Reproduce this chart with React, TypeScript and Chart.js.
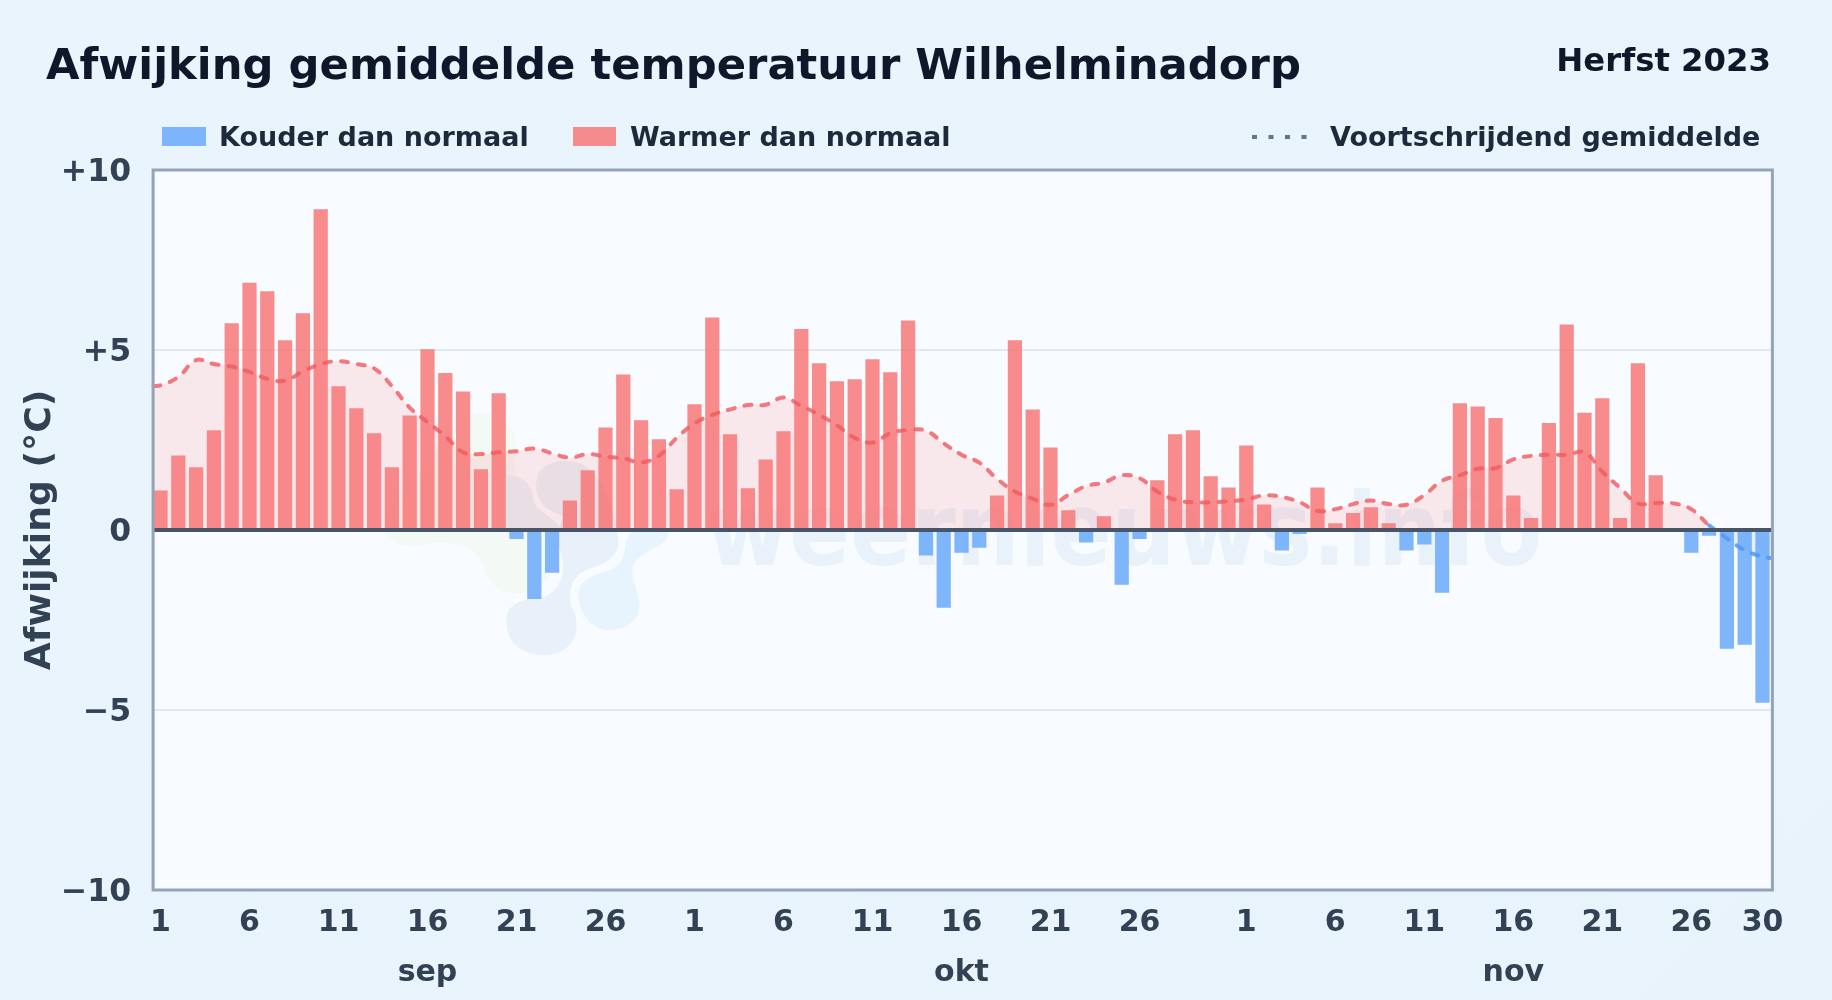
import React, { useEffect, useRef } from "react";
import { Chart, registerables } from "chart.js";

Chart.register(...registerables);

const titleText = "Afwijking gemiddelde temperatuur Wilhelminadorp";
const seasonText = "Herfst 2023";
const coldLabel = "Kouder dan normaal";
const warmLabel = "Warmer dan normaal";
const rollingLabel = "Voortschrijdend gemiddelde";
const yAxisLabel = "Afwijking (°C)";
const watermarkText = "weernieuws.info";

const months = ["sep", "okt", "nov"];
const monthLengths = [30, 31, 30];

const deviation = [
  1.1, 2.07, 1.74, 2.77, 5.74, 6.87, 6.63, 5.27, 6.02, 8.91, 3.99, 3.38, 2.69, 1.74, 3.18, 5.02, 4.36, 3.85, 1.69, 3.8,
  -0.25, -1.92, -1.19, 0.82, 1.66, 2.85, 4.32, 3.05, 2.52, 1.13,
  3.49, 5.9, 2.66, 1.16, 1.96, 2.74, 5.58, 4.63, 4.13, 4.19, 4.74, 4.38, 5.82, -0.71, -2.16, -0.63, -0.49, 0.96, 5.27, 3.35,
  2.29, 0.55, -0.35, 0.38, -1.52, -0.25, 1.38, 2.66, 2.77, 1.49, 1.18,
  2.35, 0.71, -0.57, -0.11, 1.18, 0.19, 0.47, 0.63, 0.19, -0.57, -0.4, -1.74, 3.52, 3.43, 3.11, 0.96, 0.33, 2.97, 5.71,
  3.26, 3.66, 0.33, 4.63, 1.52, 0, -0.63, -0.16, -3.3, -3.19, -4.8,
];

const rolling = [
  4.02, 4.25, 4.72, 4.61, 4.54, 4.39, 4.2, 4.15, 4.41, 4.61, 4.69, 4.61, 4.49, 4.0, 3.4, 3.0, 2.61, 2.16, 2.11, 2.16,
  2.19, 2.26, 2.13, 2.01, 2.11, 2.04, 1.99, 1.88, 2.06, 2.56,
  2.96, 3.2, 3.35, 3.47, 3.48, 3.68, 3.45, 3.2, 2.91, 2.56, 2.43, 2.69, 2.78, 2.76, 2.41, 2.09, 1.87, 1.42, 1.07, 0.87,
  0.7, 0.97, 1.22, 1.32, 1.52, 1.44, 1.07, 0.84, 0.77, 0.77, 0.8,
  0.85, 0.96, 0.92, 0.77, 0.53, 0.58, 0.72, 0.82, 0.72, 0.7, 0.97, 1.37, 1.52, 1.7, 1.72, 1.96, 2.06, 2.09, 2.09,
  2.16, 1.62, 1.17, 0.74, 0.75, 0.74, 0.58, 0.13, -0.23, -0.56, -0.74,
];
const rollingBefore = 4.0;
const rollingAfter = -0.78;

const yTicks = [-10, -5, 0, 5, 10];

const dayLabels: string[] = [];
const monthOfDay: number[] = [];
monthLengths.forEach((len, m) => {
  for (let d = 1; d <= len; d++) {
    dayLabels.push(String(d));
    monthOfDay.push(m);
  }
});

const C_TITLE = "#0f172a";
const C_LEGEND = "#1e293b";
const C_TICK = "#334155";
const C_RED_LINE = "rgba(240,90,95,0.8)";
const C_BLUE_LINE = "rgba(80,150,245,0.85)";
const FONT = "'DejaVu Sans'";

const blob = (ctx: CanvasRenderingContext2D, color: string, start: number[], curves: number[][]) => {
  const px = (x: number) => 370 + x / 3;
  const py = (y: number) => 400 + y / 3;
  ctx.beginPath();
  ctx.moveTo(px(start[0]), py(start[1]));
  curves.forEach((c) => ctx.bezierCurveTo(px(c[0]), py(c[1]), px(c[2]), py(c[3]), px(c[4]), py(c[5])));
  ctx.closePath();
  ctx.fillStyle = color;
  ctx.fill();
};

const decorPlugin = {
  id: "decor",
  beforeDatasetsDraw(chart: any) {
    const { ctx, chartArea: a } = chart;
    ctx.save();
    ctx.beginPath();
    ctx.rect(a.left + 1.5, a.top, a.right - a.left - 0.5, a.bottom - a.top);
    ctx.clip();
    blob(ctx, "#f3f9f4", [50, 410], [
      [20, 340, 100, 250, 170, 200],
      [230, 120, 260, 40, 330, 40],
      [410, 40, 450, 100, 435, 160],
      [425, 260, 500, 330, 540, 420],
      [570, 500, 540, 580, 430, 580],
      [370, 575, 350, 530, 335, 490],
      [320, 440, 260, 425, 180, 430],
      [120, 445, 70, 435, 50, 410],
    ]);
    blob(ctx, "#e8f0f9", [410, 225], [
      [460, 225, 490, 260, 490, 300],
      [500, 340, 560, 350, 575, 395],
      [520, 395, 460, 395, 410, 395],
      [410, 340, 410, 280, 410, 225],
    ]);
    blob(ctx, "#e8f0f9", [410, 670], [
      [405, 620, 440, 598, 500, 596],
      [560, 590, 590, 530, 575, 470],
      [565, 430, 560, 400, 575, 360],
      [590, 345, 560, 345, 530, 325],
      [500, 300, 490, 260, 505, 220],
      [530, 180, 600, 170, 650, 200],
      [700, 240, 740, 340, 745, 420],
      [750, 470, 700, 495, 660, 505],
      [610, 520, 590, 570, 605, 620],
      [630, 670, 625, 720, 580, 750],
      [520, 785, 410, 760, 410, 670],
    ]);
    blob(ctx, "#e8f4fd", [625, 590], [
      [625, 540, 670, 525, 720, 510],
      [770, 490, 760, 450, 770, 420],
      [780, 380, 830, 385, 895, 395],
      [900, 430, 850, 440, 810, 470],
      [770, 500, 790, 540, 805, 590],
      [825, 650, 770, 690, 720, 690],
      [670, 690, 630, 650, 625, 590],
    ]);
    ctx.translate(706, 565);
    ctx.scale(1, 1.12);
    ctx.font = `bold 90px ${FONT}`;
    ctx.textAlign = "left";
    ctx.textBaseline = "alphabetic";
    ctx.fillStyle = "#e9f2fb";
    ctx.fillText(watermarkText, 0, 0);
    ctx.restore();
  },
  beforeDraw(chart: any) {
    const { ctx, chartArea: a } = chart;
    ctx.save();
    ctx.fillStyle = "#f8fbff";
    ctx.fillRect(a.left + 1.5, a.top, a.right - a.left - 0.5, a.bottom - a.top);
    ctx.restore();
  },
  afterDatasetsDraw(chart: any) {
    const { ctx, chartArea: a, scales } = chart;
    ctx.save();
    const y0 = scales.y.getPixelForValue(0);
    ctx.strokeStyle = "#475569";
    ctx.lineWidth = 4;
    ctx.beginPath();
    ctx.moveTo(a.left + 1.5, y0);
    ctx.lineTo(a.right + 1, y0);
    ctx.stroke();
    ctx.strokeStyle = "#94a3b8";
    ctx.lineWidth = 3;
    ctx.strokeRect(a.left + 1.5, a.top, a.right - a.left - 0.5, a.bottom - a.top);
    ctx.restore();
  },
  afterDraw(chart: any) {
    const { ctx } = chart;
    ctx.save();
    ctx.textBaseline = "alphabetic";
    ctx.textAlign = "left";
    ctx.fillStyle = C_TITLE;
    ctx.font = `bold 43.3px ${FONT}`;
    ctx.fillText(titleText, 46, 79);
    ctx.textAlign = "right";
    ctx.font = `bold 32.3px ${FONT}`;
    ctx.fillText(seasonText, 1771, 71);
    ctx.textAlign = "left";
    ctx.font = `bold 27px ${FONT}`;
    ctx.fillStyle = "rgba(96,165,250,0.8)";
    ctx.fillRect(162, 127, 44, 19);
    ctx.fillStyle = "rgba(248,113,113,0.8)";
    ctx.fillRect(573, 127, 43, 19);
    ctx.fillStyle = C_LEGEND;
    ctx.fillText(coldLabel, 219, 146);
    ctx.fillText(warmLabel, 630, 146);
    ctx.fillText(rollingLabel, 1330, 146);
    ctx.strokeStyle = "#64748b";
    ctx.lineWidth = 4;
    ctx.setLineDash([5, 11.5]);
    ctx.beginPath();
    ctx.moveTo(1252, 137);
    ctx.lineTo(1307, 137);
    ctx.stroke();
    ctx.restore();
  },
};

export default function App() {
  const ref = useRef<HTMLCanvasElement>(null);
  useEffect(() => {
    document.body.style.margin = "0";
    const rollingPoints = [
      { x: -0.4, y: rollingBefore },
      ...rolling.map((y, i) => ({ x: i, y })),
      { x: 90.5, y: rollingAfter },
    ];
    const chart = new Chart(ref.current as HTMLCanvasElement, {
      type: "bar",
      data: {
        labels: dayLabels,
        datasets: [
          {
            type: "bar",
            label: coldLabel,
            data: deviation.map((v) => (v < 0 ? v : null)),
            backgroundColor: "rgba(96,165,250,0.8)",
            barPercentage: 0.8,
            categoryPercentage: 1,
            grouped: false,
            order: 2,
          },
          {
            type: "bar",
            label: warmLabel,
            data: deviation.map((v) => (v > 0 ? v : null)),
            backgroundColor: "rgba(248,113,113,0.8)",
            barPercentage: 0.8,
            categoryPercentage: 1,
            grouped: false,
            order: 2,
          },
          {
            type: "line",
            label: rollingLabel,
            data: rollingPoints,
            parsing: false,
            borderWidth: 4,
            borderDash: [7, 10],
            borderCapStyle: "round",
            borderColor: C_RED_LINE,
            pointRadius: 0,
            tension: 0.4,
            fill: {
              target: { value: 0 },
              above: "rgba(248,113,113,0.14)",
              below: "rgba(96,165,250,0.14)",
            },
            segment: {
              borderColor: (c: any) => (c.p0.parsed.y < 0 || c.p1.parsed.y < 0 ? C_BLUE_LINE : C_RED_LINE),
            },
            order: 1,
          },
        ] as any,
      },
      options: {
        responsive: false,
        animation: false,
        devicePixelRatio: 1,
        layout: { padding: { top: 170, right: 60.6, left: 0, bottom: 0 } },
        plugins: { legend: { display: false }, title: { display: false }, tooltip: { enabled: false } },
        scales: {
          x: {
            type: "category",
            offset: true,
            grid: { display: false, drawTicks: false },
            border: { display: false },
            afterFit: (s: any) => {
              s.height = 110;
            },
            ticks: {
              autoSkip: false,
              maxRotation: 0,
              minRotation: 0,
              padding: 8,
              color: C_TICK,
              font: { family: FONT, size: 30, weight: "bold", lineHeight: 1.68 },
              callback: (_v: any, i: number) => {
                const day = i - monthLengths.slice(0, monthOfDay[i]).reduce((a, b) => a + b, 0) + 1;
                if (day === 16) return ["16", months[monthOfDay[i]]];
                if (i === dayLabels.length - 1) return "30";
                return (day - 1) % 5 === 0 && day <= 26 ? String(day) : "";
              },
            },
          },
          y: {
            type: "linear",
            min: -10,
            max: 10,
            afterFit: (s: any) => {
              s.width = 151.6;
            },
            afterBuildTicks: (s: any) => {
              s.ticks = yTicks.map((value) => ({ value }));
            },
            afterUpdate: (s: any) => {
              if (s.__shifted) return;
              s.__shifted = true;
              const compute = s._computeLabelItems.bind(s);
              s._computeLabelItems = (area: any) =>
                compute(area).map((item: any) => ({ ...item, textOffset: item.textOffset + 3 }));
              s._labelItems = null;
            },
            border: { display: false },
            grid: {
              drawTicks: false,
              lineWidth: 2,
              color: (c: any) => (Math.abs(c.tick.value) === 5 ? "#e2e8f0" : "rgba(0,0,0,0)"),
            },
            ticks: {
              padding: 20.5,
              color: C_TICK,
              font: { family: FONT, size: 31.5, weight: "bold" },
              callback: (v: any) => (v > 0 ? `+${v}` : v < 0 ? `\u2212${-v}` : "0"),
            },
            title: {
              display: true,
              text: yAxisLabel,
              color: C_TICK,
              font: { family: FONT, size: 36.2, weight: "bold" },
              padding: { top: 19, bottom: 0 },
            },
          },
        },
      } as any,
      plugins: [decorPlugin],
    });
    return () => chart.destroy();
  }, []);
  return (
    <div
      style={{
        position: "fixed",
        left: 0,
        top: 0,
        width: 1832,
        height: 1000,
        background: "linear-gradient(135deg,#eaf4fd,#e8f3fc)",
      }}
    >
      <canvas ref={ref} width={1832} height={1000} style={{ display: "block" }} />
    </div>
  );
}
